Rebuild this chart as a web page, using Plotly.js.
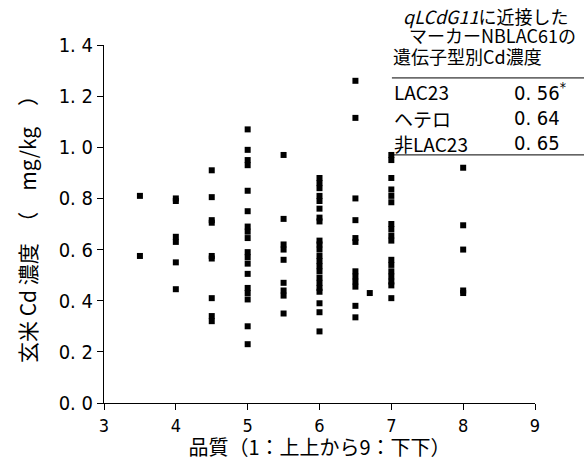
<!DOCTYPE html>
<html>
<head>
<meta charset="utf-8">
<script src="https://cdn.plot.ly/plotly-3.0.1.min.js"></script>
<style>html,body{margin:0;padding:0;background:#fff;}#chart{width:584px;height:461px;}</style>
</head>
<body>
<div id="chart"></div>
<script>
// Quality grade (x) groups and brown-rice Cd concentrations (mg/kg)
const grades = [3.5, 4, 4.5, 5, 5.5, 6, 6.5, 6.7, 7, 8];
const cd_35 = [0.81, 0.575];
const cd_40 = [0.80, 0.79, 0.65, 0.63, 0.55, 0.445];
const cd_45 = [0.91, 0.805, 0.715, 0.705, 0.575, 0.565, 0.41, 0.34, 0.32];
const cd_50 = [1.07, 0.99, 0.95, 0.93, 0.83, 0.75, 0.69, 0.67, 0.645, 0.59, 0.57, 0.545, 0.505, 0.45, 0.43, 0.405, 0.30, 0.23];
const cd_55 = [0.97, 0.72, 0.62, 0.60, 0.56, 0.47, 0.44, 0.42, 0.35];
const cd_60 = [0.88, 0.86, 0.84, 0.81, 0.79, 0.76, 0.725, 0.71, 0.635, 0.62, 0.60, 0.575, 0.555, 0.535, 0.515, 0.49, 0.47, 0.45, 0.435, 0.39, 0.355, 0.28];
const cd_65 = [1.26, 1.115, 0.80, 0.715, 0.645, 0.63, 0.515, 0.495, 0.475, 0.455, 0.38, 0.335];
const cd_67 = [0.43];
const cd_70 = [0.97, 0.95, 0.88, 0.835, 0.81, 0.785, 0.70, 0.68, 0.655, 0.635, 0.56, 0.54, 0.515, 0.495, 0.475, 0.46, 0.41];
const cd_80 = [0.92, 0.695, 0.60, 0.44, 0.43];
const cdGroups = [cd_35, cd_40, cd_45, cd_50, cd_55, cd_60, cd_65, cd_67, cd_70, cd_80];

// Genotype table (marker NBLAC61)
const tableHeader = ["<i>qLCdG11</i>に近接した", "マーカーNBLAC61の", "遺伝子型別Cd濃度"];
const genotypes = ["LAC23", "ヘテロ", "非LAC23"];
const genotypeCd = ["0. 56<sup>*</sup>", "0. 64", "0. 65"];

const xTicks = [3, 4, 5, 6, 7, 8, 9];
const yTicks = [0, 0.2, 0.4, 0.6, 0.8, 1.0, 1.2, 1.4];

const xs = [], ys = [];
cdGroups.forEach((g, i) => g.forEach(v => { xs.push(grades[i]); ys.push(v); }));

const FONT = "'Noto Sans CJK JP', sans-serif";
const NUMFONT = "'DejaVu Sans Condensed', 'Noto Sans CJK JP', sans-serif";

const trace = {
  type: 'scatter', mode: 'markers', x: xs, y: ys,
  marker: {symbol: 'square', size: 6, color: '#000'},
  hoverinfo: 'skip', showlegend: false
};

const headerX = [0.69, 0.702, 0.665];
const headerY = [1.082, 1.029, 0.970];
const rowsY = [0.869, 0.796, 0.726];
const annotations = [];
tableHeader.forEach((t, i) => {
  annotations.push({text: t, x: headerX[i], y: headerY[i], xref: 'paper', yref: 'paper', xanchor: 'left', yanchor: 'middle',
    showarrow: false, font: {family: FONT, size: 18, color: '#000'}});
});
genotypes.forEach((g, i) => {
  annotations.push({text: g, x: 0.668, y: rowsY[i], xref: 'paper', yref: 'paper', xanchor: 'left', yanchor: 'middle',
    showarrow: false, font: {family: FONT, size: 19, color: '#000'}});
  annotations.push({text: genotypeCd[i], x: 0.946, y: rowsY[i], xref: 'paper', yref: 'paper', xanchor: 'left', yanchor: 'middle',
    showarrow: false, font: {family: NUMFONT, size: 20, color: '#000'}});
});

const layout = {
  width: 584, height: 461,
  margin: {l: 104, r: 49, t: 45, b: 58},
  paper_bgcolor: '#fff', plot_bgcolor: '#fff',
  font: {family: FONT, color: '#000'},
  xaxis: {
    range: [3, 9], tickvals: xTicks, ticks: 'outside', ticklen: 6, tickcolor: '#000',
    showline: true, linecolor: '#000', linewidth: 1, showgrid: false, zeroline: false,
    tickfont: {family: NUMFONT, size: 18, color: '#000'},
    title: {text: '品質（1：上上から9：下下）', font: {family: FONT, size: 20, color: '#000'}, standoff: 0}
  },
  yaxis: {
    range: [0, 1.4], tickvals: yTicks, ticktext: yTicks.map(v => v.toFixed(1).replace('.', '. ')),
    ticks: 'outside', ticklen: 6, tickcolor: '#000',
    showline: true, linecolor: '#000', linewidth: 1, showgrid: false, zeroline: false,
    tickfont: {family: NUMFONT, size: 20, color: '#000'},
    title: {text: '玄米 Cd 濃度　（　mg/kg　）　', font: {family: FONT, size: 21, color: '#000'}, standoff: 16}
  },
  annotations: annotations,
  shapes: [
    {type: 'line', xref: 'paper', yref: 'paper', x0: 0.668, x1: 1.12, y0: 0.908, y1: 0.908, line: {color: '#000', width: 1}},
    {type: 'line', xref: 'paper', yref: 'paper', x0: 0.668, x1: 1.12, y0: 0.693, y1: 0.693, line: {color: '#000', width: 1}}
  ]
};

Plotly.newPlot('chart', [trace], layout, {displayModeBar: false, staticPlot: true});
</script>
</body>
</html>
